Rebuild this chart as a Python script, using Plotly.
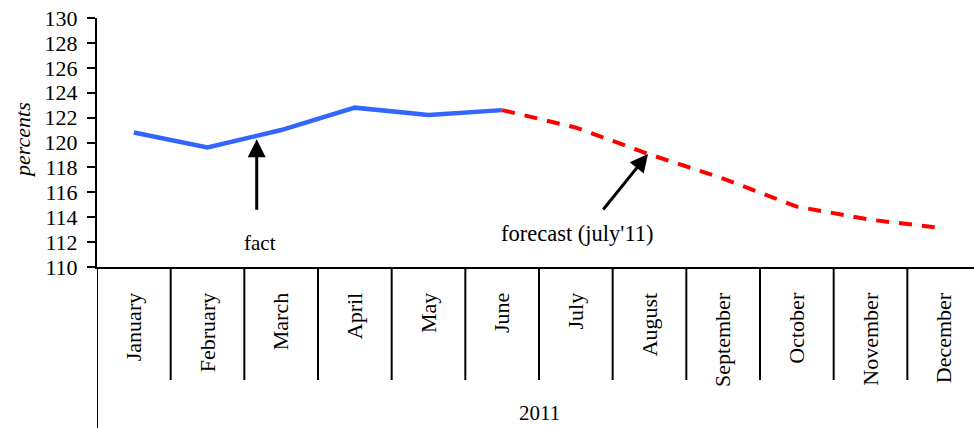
import plotly.graph_objects as go

months = ["January", "February", "March", "April", "May", "June", "July",
          "August", "September", "October", "November", "December"]
fact_months = months[:6]
fact_values = [120.8, 119.6, 121.0, 122.8, 122.2, 122.6]
forecast_months = months[5:]
forecast_values = [122.6, 121.2, 119.05, 117.1, 114.85, 113.8, 113.1]
y_ticks = list(range(110, 131, 2))
year_label = "2011"

FONT = "Liberation Serif"

fig = go.Figure()
fig.add_trace(go.Scatter(x=fact_months, y=fact_values, mode="lines",
                         line=dict(color="#3366ff", width=4.5),
                         showlegend=False, hoverinfo="skip"))
fig.add_trace(go.Scatter(x=forecast_months, y=forecast_values, mode="lines",
                         line=dict(color="#f2fbf5", width=4),
                         showlegend=False, hoverinfo="skip"))
fig.add_trace(go.Scatter(x=forecast_months, y=forecast_values, mode="lines",
                         line=dict(color="#ff0000", width=4, dash="13px,10px"),
                         showlegend=False, hoverinfo="skip"))

n = len(months)
# category separators below the axis
for i in range(n + 1):
    fig.add_shape(type="line", xref="x", yref="paper",
                  x0=i - 0.5, x1=i - 0.5, y0=0, y1=-113 / 249,
                  line=dict(color="black", width=2))
# left axis extension down to the bottom
fig.add_shape(type="line", xref="x", yref="paper", x0=-0.5, x1=-0.5,
              y0=0, y1=-170 / 249, line=dict(color="black", width=2))

fig.update_layout(
    width=974, height=428,
    margin=dict(l=97, r=0, t=18, b=161),
    paper_bgcolor="white", plot_bgcolor="white",
    font=dict(family=FONT, color="black", size=21),
    xaxis=dict(type="category", categoryorder="array", categoryarray=months,
               range=[-0.5, 11.405], showline=True, linecolor="black",
               linewidth=2, ticks="", tickangle=-90, showgrid=False,
               zeroline=False, tickfont=dict(family=FONT, size=22),
               ticklabelstandoff=15),
    yaxis=dict(range=[110, 130], tickvals=y_ticks, showline=True,
               linecolor="black", linewidth=2, ticks="outside", ticklen=8,
               tickwidth=2, tickcolor="black", showgrid=False, zeroline=False,
               tickfont=dict(family=FONT, size=22), ticklabelstandoff=5,
               ticklabeloverflow="allow"),
)

fig.add_annotation(x=-75 / 877, y=0.51, xref="paper", yref="paper",
                   xanchor="center", yanchor="middle",
                   text="<i>percents</i>", textangle=-90, showarrow=False,
                   font=dict(family=FONT, size=22))
fig.add_annotation(x=5.5, y=-0.586, xref="x", yref="paper", text=year_label,
                   xanchor="center", yanchor="middle",
                   showarrow=False, font=dict(family=FONT, size=21))

# arrows
fig.add_annotation(x=1.668, y=120.26, xref="x", yref="y", text="",
                   showarrow=True, ax=0, ay=72, arrowhead=2, arrowsize=1.2,
                   arrowwidth=3, arrowcolor="black")
fig.add_annotation(x=6.98, y=119.08, xref="x", yref="y", text="",
                   showarrow=True, ax=-46, ay=57, arrowhead=2, arrowsize=1.2,
                   arrowwidth=3, arrowcolor="black")
fig.add_annotation(x=1.708, y=111.95, xref="x", yref="y", text="fact",
                   xanchor="center", yanchor="middle",
                   showarrow=False, font=dict(family=FONT, size=21))
fig.add_annotation(x=6.02, y=112.73, xref="x", yref="y",
                   xanchor="center", yanchor="middle",
                   text="forecast (july'11)", showarrow=False,
                   font=dict(family=FONT, size=22.5))

fig.write_html(
    "out.html",
    config={"displayModeBar": False},
    post_script="document.body.style.margin='0';document.body.style.overflow='hidden';",
)
